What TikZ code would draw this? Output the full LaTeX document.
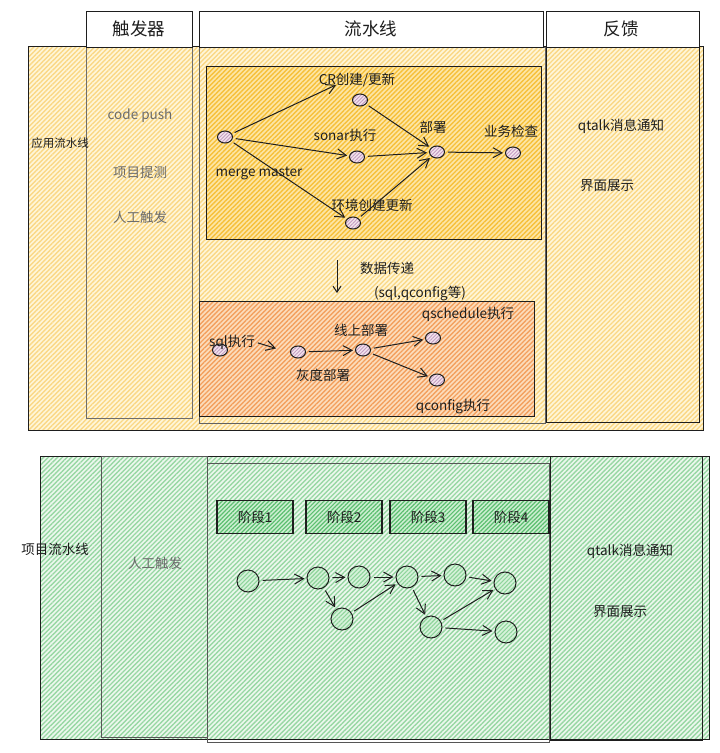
\documentclass[tikz,border=0pt]{standalone}
\usepackage{fontspec}
\setmainfont{Noto Sans CJK SC}
\usetikzlibrary{patterns.meta,shapes.geometric,arrows.meta}
\definecolor{ink}{HTML}{1E1E1E}
\definecolor{yBase}{HTML}{FFF6D9}
\definecolor{yHatch}{HTML}{FAD886}
\definecolor{aBase}{HTML}{FDE6A6}
\definecolor{aHatch}{HTML}{F6C03A}
\definecolor{oBase}{HTML}{FCDDBC}
\definecolor{oHatch}{HTML}{F3A05E}
\definecolor{gBase}{HTML}{ECF8EE}
\definecolor{gHatch}{HTML}{98D7A3}
\definecolor{sBase}{HTML}{CDEFD2}
\definecolor{sHatch}{HTML}{5CBF70}
\definecolor{cBase}{HTML}{D6F2DA}
\definecolor{cHatch}{HTML}{8ED49B}
\definecolor{pBase}{HTML}{F3E6EC}
\definecolor{pHatch}{HTML}{C39BC3}
\definecolor{txtgray}{HTML}{6A6A6A}
\tikzset{
  zoneY/.style={preaction={fill=yBase},pattern={Lines[angle=45,distance=3.3pt,line width=1.4pt]},pattern color=yHatch},
  zoneA/.style={preaction={fill=aBase},pattern={Lines[angle=45,distance=3.3pt,line width=1.4pt]},pattern color=aHatch},
  zoneO/.style={preaction={fill=oBase},pattern={Lines[angle=45,distance=3.3pt,line width=1.4pt]},pattern color=oHatch},
  zoneG/.style={preaction={fill=gBase},pattern={Lines[angle=45,distance=3.3pt,line width=1.4pt]},pattern color=gHatch},
  frame/.style={draw=ink,line width=1pt},
  hdr/.style={font=\fontsize{17.5}{20}\selectfont,text=ink},
  lbl/.style={font=\fontsize{13.5}{15}\selectfont,text=ink,inner sep=0pt},
  glbl/.style={font=\fontsize{13.5}{15}\selectfont,text=txtgray,inner sep=0pt},
  side/.style={font=\fontsize{11.5}{14}\selectfont,text=ink,inner sep=0pt},
  dot/.style={ellipse,draw=ink,line width=1pt,minimum width=15pt,minimum height=12pt,inner sep=0pt,
    preaction={fill=pBase},pattern={Lines[angle=45,distance=2.5pt,line width=0.9pt]},pattern color=pHatch},
  gdot/.style={circle,draw=ink,line width=1pt,minimum size=22pt,inner sep=0pt,
    preaction={fill=cBase},pattern={Lines[angle=45,distance=3pt,line width=1.1pt]},pattern color=cHatch},
  stagebox/.style={draw=ink,line width=1.1pt,minimum width=76pt,minimum height=33pt,inner sep=0pt,
    font=\fontsize{13.5}{15}\selectfont,text=ink,
    preaction={fill=sBase},pattern={Lines[angle=45,distance=3pt,line width=1.2pt]},pattern color=sHatch},
  arr/.style={draw=ink,line width=1pt,-{Straight Barb[length=9pt,width=10pt]},shorten >=2pt,shorten <=3pt},
}
\begin{document}
\begin{tikzpicture}[x=1pt,y=-1pt]
\useasboundingbox (0,0) rectangle (720,753);
\fill[white] (0,0) rectangle (720,753);
% ===== top section =====
\path[zoneY,frame] (28,46) rectangle (703,430);
\draw[draw=ink!65,line width=1pt] (86,47) rectangle (192,418);
\draw[draw=ink!70,line width=1pt] (199,47) rectangle (545,423);
\draw[frame] (546,47) rectangle (699,422);
\draw[frame,fill=white] (86,11) rectangle (192,47);
\draw[frame,fill=white] (199,11) rectangle (543,47);
\draw[frame,fill=white] (546,11) rectangle (699,47);
\node[hdr] (h1) at (139,29) {触发器};
\node[hdr] (h2) at (371,29) {流水线};
\node[hdr] (h3) at (621,29) {反馈};
\node[side] (appl) at (60,143) {应用流水线};
\node[glbl] (t1) at (140,116) {code push};
\node[glbl] (t2) at (140,172) {项目提测};
\node[glbl] (t3) at (140,217) {人工触发};
\node[lbl] (f1) at (621,126) {qtalk消息通知};
\node[lbl] (f2) at (607,186) {界面展示};
% box 1
\path[zoneA,frame] (206,66) rectangle (541,239);
\node[dot] (n0) at (225,137) {};
\node[dot] (ncr) at (360,100) {};
\node[dot] (nso) at (357,157) {};
\node[dot] (nen) at (353,223) {};
\node[dot] (nde) at (437,152) {};
\node[dot] (nck) at (513,153) {};
\node[lbl] (lcr) at (357,80) {CR创建/更新};
\node[lbl] (lso) at (345,135) {sonar执行};
\node[lbl] (lde) at (433,127) {部署};
\node[lbl] (lck) at (511,131) {业务检查};
\node[lbl] (lmm) at (259,173) {merge master};
\node[lbl] (len) at (372,205) {环境创建更新};
\coordinate (crend) at (338,84);
\draw[arr] (n0) -- (crend);
\draw[arr] (n0) -- (nso);
\draw[arr] (n0) -- (nen);
\draw[arr] (ncr) -- (nde);
\draw[arr] (nso) -- (nde);
\draw[arr] (nen) -- (nde);
\draw[arr] (nde) -- (nck);
% data transfer
\node[lbl] (ldt) at (387,268) {数据传递};
\node[lbl] (ldp) at (420,293) {(sql,qconfig等)};
\coordinate (dta) at (337,260);
\coordinate (dtb) at (337,293);
\draw[draw=ink,line width=1pt,-{Straight Barb[length=6pt,width=8pt]}] (dta) -- (dtb);
% box 2
\path[zoneO,frame] (199,301) rectangle (534,416);
\node[dot] (s0) at (220,350) {};
\node[dot] (s1) at (298,352) {};
\node[dot] (s2) at (363,350) {};
\node[dot] (s3) at (433,338) {};
\node[dot] (s4) at (437,380) {};
\node[lbl] (ls0) at (232,342) {sql执行};
\node[lbl] (ls1) at (323,375) {灰度部署};
\node[lbl] (ls2) at (361,330) {线上部署};
\node[lbl] (ls3) at (468,314) {qschedule执行};
\node[lbl] (ls4) at (453,407) {qconfig执行};
\coordinate (sqlend) at (278,349);
\draw[arr] (ls0.east) -- (sqlend);
\draw[arr] (s1) -- (s2);
\draw[arr] (s2) -- (s3);
\draw[arr] (s2) -- (s4);
% ===== bottom section =====
\path[zoneG,frame] (40,456) rectangle (709,739);
\draw[draw=ink!75,line width=1pt] (101,456) rectangle (207,737);
\draw[draw=ink!75,line width=1pt] (207,463) rectangle (549,742);
\draw[frame] (550,456) rectangle (702,740);
\node[side,font=\fontsize{13.5}{15}\selectfont] (proj) at (55,549) {项目流水线};
\node[glbl] (b1) at (155,563) {人工触发};
\node[lbl] (bf1) at (630,551) {qtalk消息通知};
\node[lbl] (bf2) at (620,612) {界面展示};
\node[stagebox] (p1) at (255,517) {阶段1};
\node[stagebox] (p2) at (344,517) {阶段2};
\node[stagebox] (p3) at (428,517) {阶段3};
\node[stagebox] (p4) at (511,517) {阶段4};
\node[gdot] (g1) at (248,581) {};
\node[gdot] (g2) at (318,578) {};
\node[gdot] (g3) at (359,577) {};
\node[gdot] (g4) at (407,577) {};
\node[gdot] (g5) at (455,575) {};
\node[gdot] (g6) at (505,583) {};
\node[gdot] (g7) at (342,619) {};
\node[gdot] (g8) at (431,627) {};
\node[gdot] (g9) at (506,632) {};
\draw[arr] (g1) -- (g2);
\draw[arr] (g2) -- (g3);
\draw[arr] (g3) -- (g4);
\draw[arr] (g4) -- (g5);
\draw[arr] (g5) -- (g6);
\draw[arr] (g2) -- (g7);
\draw[arr] (g7) -- (g4);
\draw[arr] (g4) -- (g8);
\draw[arr] (g8) -- (g6);
\draw[arr] (g8) -- (g9);
\end{tikzpicture}
\end{document}
